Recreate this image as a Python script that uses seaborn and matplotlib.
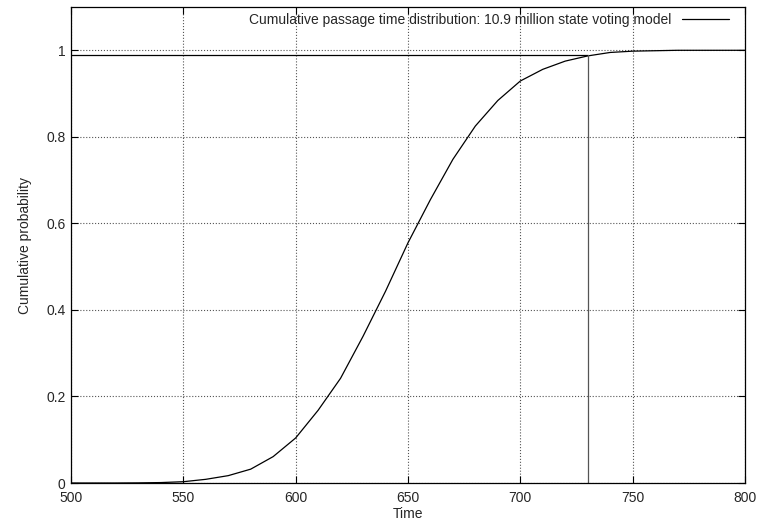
import matplotlib
matplotlib.use('Agg')
import matplotlib.pyplot as plt
import seaborn as sns
import pandas as pd

sns.set_style('ticks')
plt.rcParams['font.family'] = ['Liberation Sans', 'DejaVu Sans']
plt.rcParams['font.size'] = 10
plt.rcParams['xtick.direction'] = 'in'
plt.rcParams['ytick.direction'] = 'in'

# passage time CDF, read every 10 time units
time = [500, 510, 520, 530, 540, 550, 560, 570, 580, 590, 600, 610, 620,
        630, 640, 650, 660, 670, 680, 690, 700, 710, 720, 730, 740, 750,
        760, 770, 780, 790, 800]
prob = [0.0, 0.0, 0.0, 0.0003, 0.001, 0.003, 0.0085, 0.017, 0.032, 0.061,
        0.104, 0.168, 0.242, 0.339, 0.443, 0.555, 0.655, 0.748, 0.825,
        0.884, 0.929, 0.956, 0.975, 0.987, 0.995, 0.998, 0.999, 1.0, 1.0,
        1.0, 1.0]

# quantile marker
q_time = 730
q_prob = 0.988

label = 'Cumulative passage time distribution: 10.9 million state voting model'

frame = pd.DataFrame({'Time': time, 'prob': prob})

fig = plt.figure(figsize=(7.59, 5.32), dpi=100)
ax = fig.add_axes([0.0935, 0.0921, 0.888, 0.8947])

sns.lineplot(x='Time', y='prob', data=frame, color='black', lw=0.9,
             label=label, ax=ax)
ax.plot([500, q_time], [q_prob, q_prob], color='black', lw=0.9)
ax.plot([q_time, q_time], [0, q_prob], color='#555555', lw=0.9)

ax.set_xlim(500, 800)
ax.set_ylim(0, 1.1)
ax.set_xticks(range(500, 801, 50))
ax.set_yticks([0, 0.2, 0.4, 0.6, 0.8, 1.0])
ax.set_yticklabels(['0', '0.2', '0.4', '0.6', '0.8', '1'])
ax.grid(True, linestyle=':', color='#555555', lw=0.8)
ax.tick_params(top=True, right=True, length=5, width=0.8, color='black',
               labelsize=10)
ax.tick_params(axis='x', pad=6)
ax.tick_params(axis='y', pad=4)
for s in ax.spines.values():
    s.set_linewidth(0.9)
    s.set_color('black')

ax.set_xlabel('Time', labelpad=1)
ax.set_ylabel('Cumulative probability', labelpad=10)

leg = ax.legend(loc='upper right', frameon=False, markerfirst=False,
                handlelength=3.4, borderaxespad=0.0, handletextpad=0.8,
                fontsize=10, bbox_to_anchor=(0.985, 1.0))

sns.despine(ax=ax, top=False, right=False)
fig.savefig('out.png', dpi=100, facecolor='white')
